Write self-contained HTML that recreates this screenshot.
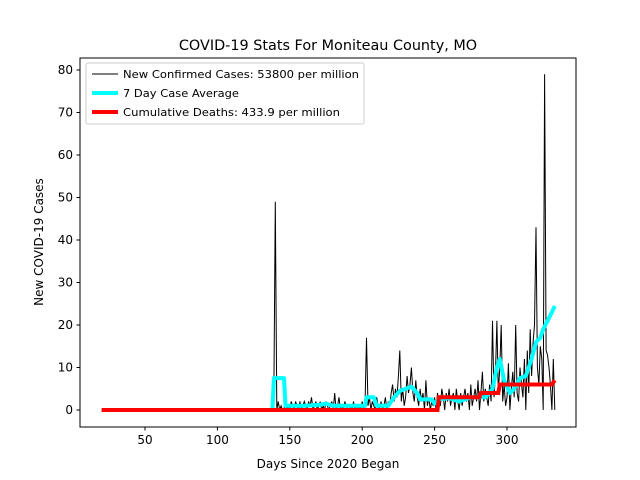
<!DOCTYPE html>
<html><head><meta charset="utf-8"><style>body{margin:0;background:#fff}svg{display:block;font-family:"DejaVu Sans","Liberation Sans",sans-serif}</style></head>
<body>
<svg id="chart" width="640" height="480">
<rect x="0" y="0" width="640" height="480" fill="#fff"/>
<text x="328" y="50" font-size="14.4" text-anchor="middle">COVID-19 Stats For Moniteau County, MO</text>
<g id="plot"></g>
<rect x="80" y="58" width="496" height="369" fill="none" stroke="#000" stroke-width="1"/>
<g id="axes" font-size="12"></g>
<text x="328" y="468" font-size="12" text-anchor="middle">Days Since 2020 Began</text>
<text transform="translate(43,242) rotate(-90)" font-size="12" text-anchor="middle">New COVID-19 Cases</text>
<g>
<rect x="86" y="63" width="278" height="61" fill="#fff" stroke="#ccc" rx="2"/>
<line x1="92" y1="74" x2="118" y2="74" stroke="#000" stroke-width="1"/>
<text x="123" y="78" font-size="11" textLength="236" lengthAdjust="spacingAndGlyphs">New Confirmed Cases: 53800 per million</text>
<line x1="92" y1="93" x2="118" y2="93" stroke="#00ffff" stroke-width="4"/>
<text x="123" y="97" font-size="11" textLength="116" lengthAdjust="spacingAndGlyphs">7 Day Case Average</text>
<line x1="92" y1="112" x2="118" y2="112" stroke="#ff0000" stroke-width="4"/>
<text x="123" y="116" font-size="11" textLength="217" lengthAdjust="spacingAndGlyphs">Cumulative Deaths: 433.9 per million</text>
</g>
</svg>
<script>
const caseStartDay = 136;
const cases = [0,0,0,5,49,0,2,0,1,0,0,
3,0,1,0,2,1,0,2,1,0,2,0,1,2,
1,0,2,1,3,0,1,2,0,1,2,0,1,0,2,1,0,1,2,0,
4,0,1,3,0,1,0,2,1,0,0,1,0,2,0,1,0,1,0,2,
0,2,17,1,3,0,2,1,0,3,
1,0,2,0,1,3,0,2,1,4,6,2,5,3,8,
14,2,5,1,3,8,4,6,10,4,2,7,3,1,5,2,4,0,7,1,3,0,2,1,3,
0,4,2,1,5,3,0,4,2,5,1,3,4,0,5,2,0,4,1,3,
5,2,4,0,6,1,3,5,2,7,0,4,9,2,5,3,1,6,2,21,
3,8,21,4,10,20,2,6,1,3,11,0,5,9,3,
20,4,2,10,6,3,12,0,14,4,19,8,16,20,43,
10,6,15,12,0,79,14,13,10,6,0,12,0];
const avgDays = [138,139,146,147,160,170,175,180,190,200,202,203,208,210,218,222,226,230,234,238,240,248,250,253,260,267,275,281,285,290,293,295,298,302,305,309,313,317,320,323,325,328,331,333];
const avgVals = [0,7.5,7.5,1,1,1.2,1.5,1,1,1,1,3,3,1,1,3,4.5,5,5.5,4,2.5,2.5,1.5,2.5,2.8,2,3,3,3,5,10,12,7,4,5,7.5,8,12,16,17,19,21,23,24.5];
const deathDays = [20,252,253,281,282,294,295,331,333];
const deathVals = [0,0,3,3,4,4,6,6,7];
const xTicks = [50,100,150,200,250,300];
const yTicks = [0,10,20,30,40,50,60,70,80];
const NS='http://www.w3.org/2000/svg';
const X = d => 72.6 + 1.448*d;
const Y = v => 410 - 4.25*v;
function mk(tag, attrs, parent){const e=document.createElementNS(NS,tag);for(const k in attrs)e.setAttribute(k,attrs[k]);parent.appendChild(e);return e;}
const plot=document.getElementById('plot'), axes=document.getElementById('axes');
let pts=[[20,0]];
cases.forEach((v,i)=>pts.push([caseStartDay+i,v]));
let p=mk('polyline',{points:pts.map(q=>X(q[0]).toFixed(1)+','+Y(q[1]).toFixed(1)).join(' '),fill:'none',stroke:'#000','stroke-width':1},plot);


p=mk('polyline',{points:avgDays.map((d,i)=>X(d).toFixed(1)+','+Y(avgVals[i]).toFixed(1)).join(' '),fill:'none',stroke:'#00ffff','stroke-width':4,'stroke-linejoin':'round'},plot);


p=mk('polyline',{points:deathDays.map((d,i)=>X(d).toFixed(1)+','+Y(deathVals[i]).toFixed(1)).join(' '),fill:'none',stroke:'#ff0000','stroke-width':4},plot);


xTicks.forEach(t=>{mk('line',{x1:X(t),x2:X(t),y1:427,y2:430.5,stroke:'#000'},axes);
 const tx=mk('text',{x:X(t),y:444,'text-anchor':'middle'},axes);tx.textContent=t;
 
 });
yTicks.forEach(t=>{mk('line',{x1:76.5,x2:80,y1:Y(t),y2:Y(t),stroke:'#000'},axes);
 const tx=mk('text',{x:73,y:Y(t)+4,'text-anchor':'end'},axes);tx.textContent=t;
 
 });
</script>
</body></html>
